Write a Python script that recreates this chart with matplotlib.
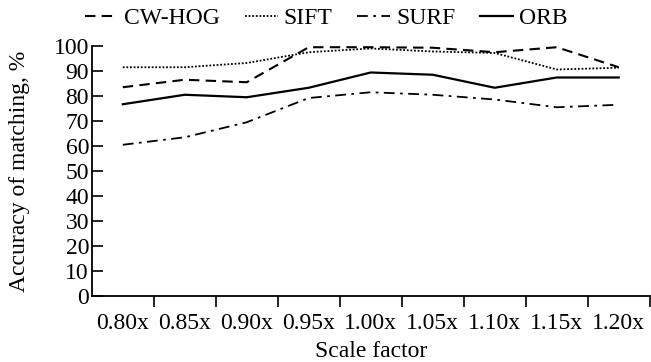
import matplotlib
matplotlib.use('Agg')
import matplotlib.pyplot as plt

# Dados
escalas = ['0.80x', '0.85x', '0.90x', '0.95x', '1.00x', '1.05x', '1.10x', '1.15x', '1.20x']
cw_hog = [83.5, 86.5, 85.5, 99.5, 99.5, 99.3, 97.5, 99.5, 91.5]
sift = [91.5, 91.5, 93.2, 97.5, 99.0, 97.8, 97.2, 90.6, 91.3]
surf = [60.5, 63.5, 69.5, 79.2, 81.5, 80.5, 78.6, 75.5, 76.5]
orb = [76.7, 80.5, 79.5, 83.3, 89.4, 88.5, 83.3, 87.4, 87.4]
y_ticks = list(range(0, 101, 10))

plt.rcParams['font.family'] = ['Liberation Serif', 'DejaVu Serif']

fig = plt.figure(figsize=(6.51, 3.62), dpi=100)
ax = fig.add_axes([0.141, 0.182, 0.857, 0.691])

x = list(range(len(escalas)))
ax.plot(x, cw_hog, color='black', lw=1.5, linestyle=(0, (5, 3)), label='CW-HOG')
ax.plot(x, sift, color='black', lw=1.3, linestyle=(0, (1, 1)), label='SIFT')
ax.plot(x, surf, color='black', lw=1.3, linestyle=(0, (6, 3, 1.5, 3)), label='SURF')
ax.plot(x, orb, color='black', lw=1.6, linestyle='-', label='ORB')

ax.set_xlim(-0.5, len(escalas) - 0.5)
ax.set_ylim(0, 100)
ax.set_yticks(y_ticks)
ax.tick_params(axis='y', direction='in', length=8, width=1.2, labelsize=17, pad=2)

# Marcas nas fronteiras das categorias, rótulos no centro
ax.set_xticks([i + 0.5 for i in x])
ax.set_xticklabels([])
ax.set_xticks(x, minor=True)
ax.set_xticklabels(escalas, minor=True)
ax.tick_params(axis='x', which='major', direction='out', length=8, width=1.2)
ax.tick_params(axis='x', which='minor', length=0, labelsize=17, pad=12)

for lado in ['top', 'right']:
    ax.spines[lado].set_visible(False)
for lado in ['left', 'bottom']:
    ax.spines[lado].set_linewidth(1.3)

ax.set_xlabel('Scale factor', fontsize=17, labelpad=5)
ax.set_ylabel('Accuracy of matching, %', fontsize=17, labelpad=17)

fig.legend(loc='center', bbox_to_anchor=(0.5015, 0.95), ncol=4, frameon=False,
           fontsize=17, handlelength=1.4, handletextpad=0.25, columnspacing=1.05,
           borderaxespad=0, borderpad=0)

fig.savefig('out.png', dpi=100)
